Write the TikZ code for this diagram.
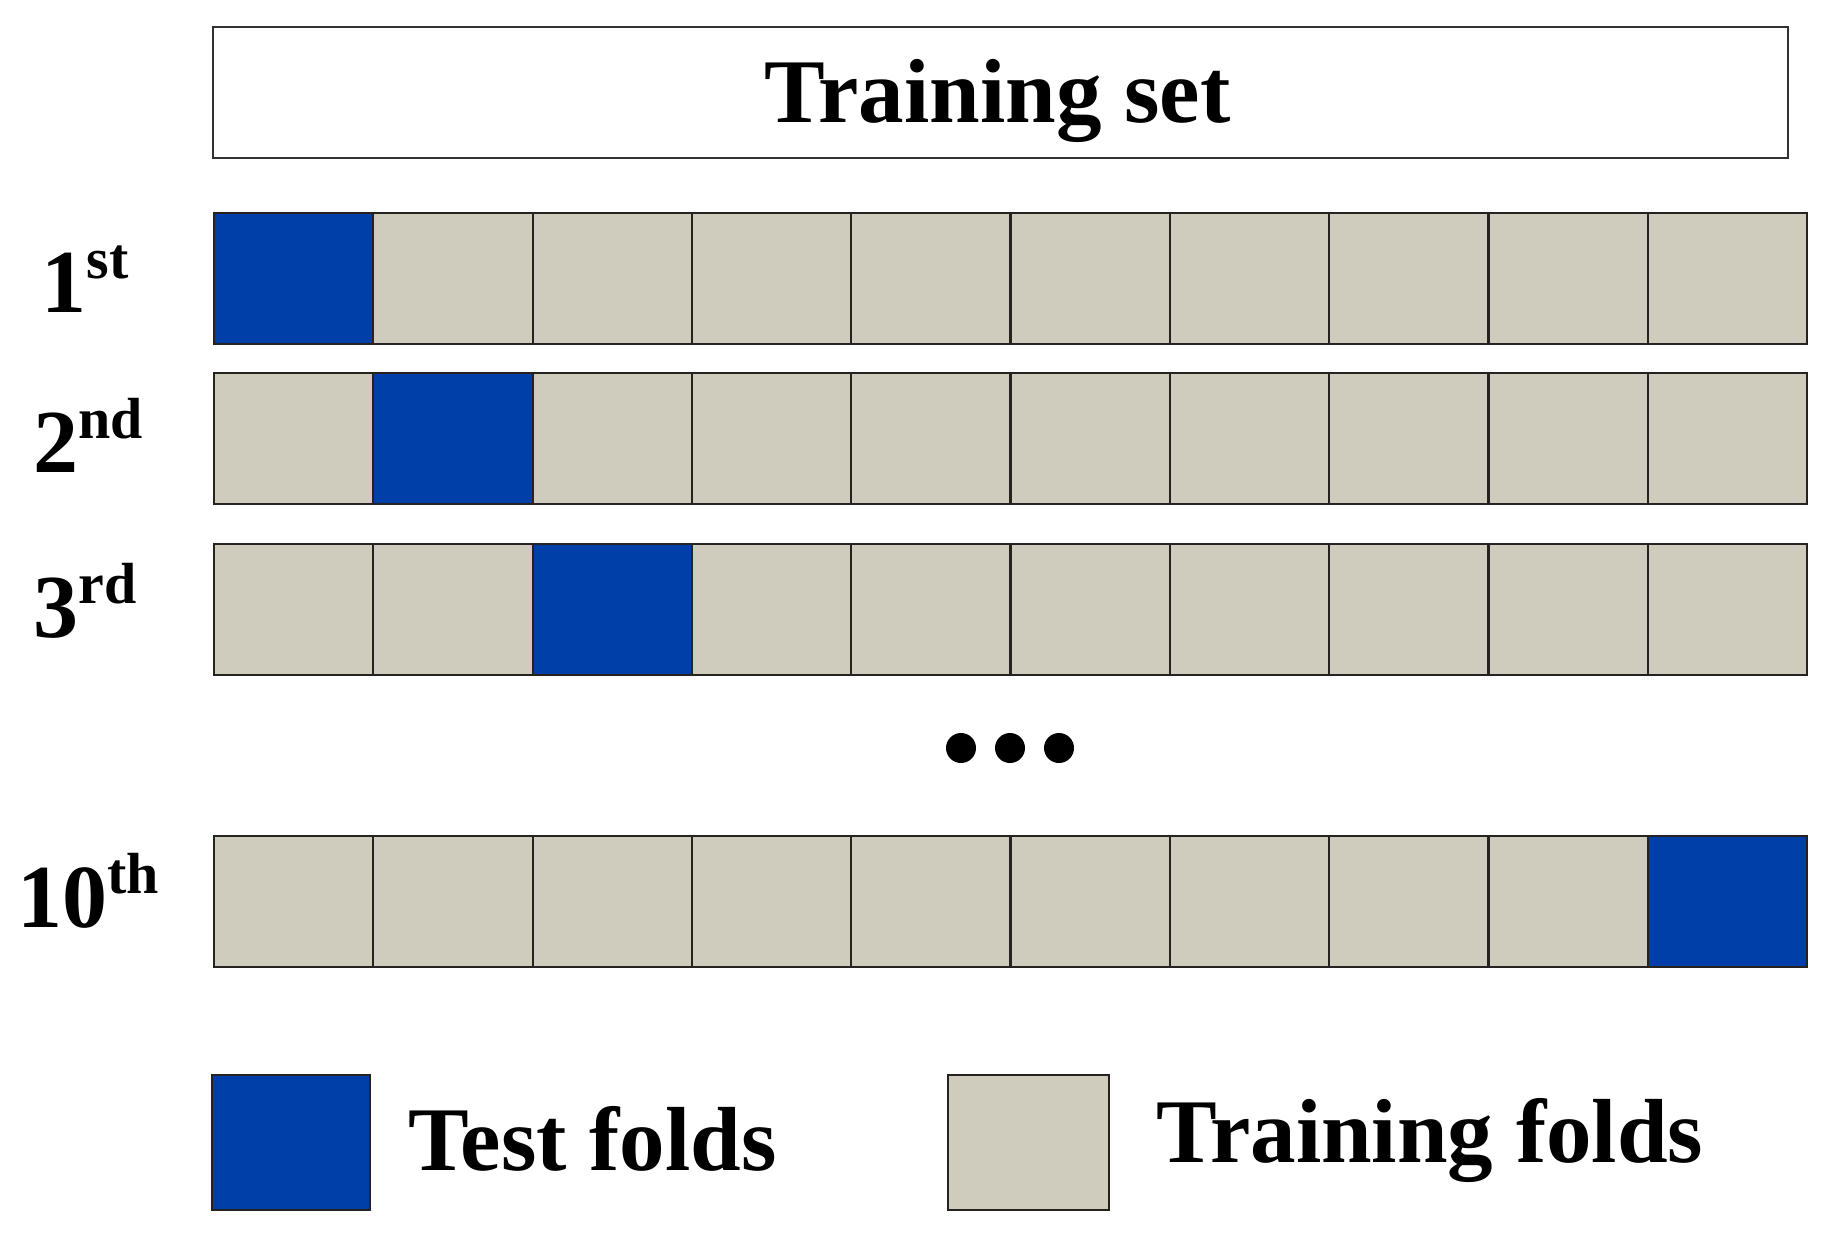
\documentclass[tikz,border=0pt]{standalone}
\usepackage{fontspec}
\setmainfont{Liberation Serif}
\definecolor{testcol}{RGB}{0,62,168}
\definecolor{traincol}{RGB}{207,204,189}
\definecolor{edgecol}{RGB}{38,34,32}
\definecolor{boxcol}{RGB}{50,50,50}
\newcommand\ordsup[1]{\raisebox{34pt}{\fontsize{58}{60}\selectfont #1}}
\begin{document}
\begin{tikzpicture}[x=1pt,y=-1pt,
  cell/.style={draw=edgecol, line width=2.2pt, fill=traincol, minimum width=159.3pt,
    minimum height=131pt, inner sep=0pt, outer sep=0pt, anchor=north west},
  testcell/.style={cell, fill=testcol},
  rowlab/.style={font=\fontsize{90}{100}\selectfont\bfseries, anchor=base, inner sep=0pt},
  legtext/.style={font=\fontsize{91}{100}\selectfont\bfseries, anchor=base west, inner sep=0pt},
  dot/.style={circle, fill=black, minimum size=30pt, inner sep=0pt}]
\useasboundingbox[fill=white] (0,0) rectangle (1843,1236);

% title box
\node[draw=boxcol, line width=2pt, minimum width=1575pt, minimum height=131pt,
  inner sep=0pt, anchor=north west] (titlebox) at (212,26) {};
\node[font=\fontsize{91}{100}\selectfont\bfseries, anchor=base, inner sep=0pt]
  (titletext) at (997.5,122) {Training set};

% rows
\foreach \r/\ytop/\t in {1/213/1, 2/373/2, 3/544/3, 10/836/10} {
  \foreach \c in {1,...,10} {
    \ifnum\c=\t\relax\def\sty{testcell}\else\def\sty{cell}\fi
    \node[\sty] (r\r c\c) at ({214+(\c-1)*159.3},\ytop) {};
  }
}

% row labels
\node[rowlab] (l1) at (85,312) {1\ordsup{st}};
\node[rowlab] (l2) at (88,472) {2\ordsup{nd}};
\node[rowlab] (l3) at (85,637) {3\ordsup{rd}};
\node[rowlab] (l10) at (88,927) {10\ordsup{th}};

% dots
\node[dot] (d1) at (961,748) {};
\node[dot] (d2) at (1010,748) {};
\node[dot] (d3) at (1059,748) {};

% legend
\node[cell, fill=testcol, minimum width=158pt, minimum height=135pt] (legtest) at (212,1075) {};
\node[legtext] (legtesttext) at (408,1170) {Test folds};
\node[cell, minimum width=161pt, minimum height=135pt] (legtrain) at (948,1075) {};
\node[legtext] (legtraintext) at (1156,1162) {Training folds};
\end{tikzpicture}
\end{document}
